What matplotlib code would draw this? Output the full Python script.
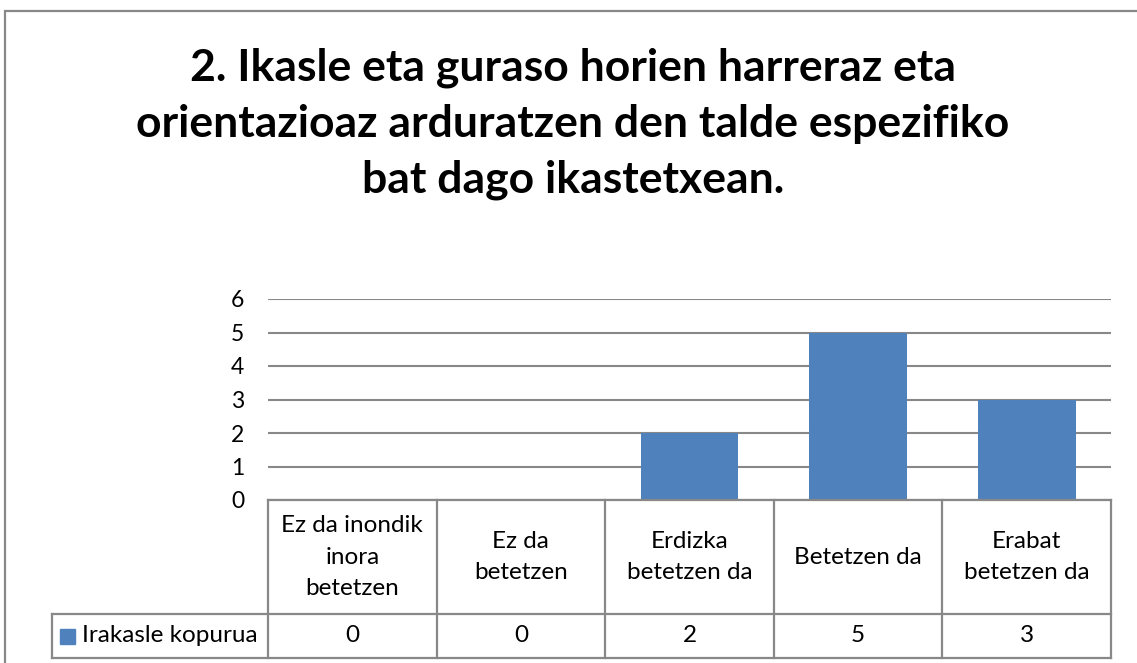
import matplotlib
matplotlib.use("Agg")
import matplotlib.pyplot as plt
from matplotlib.patches import Rectangle
from matplotlib.lines import Line2D

plt.rcParams['font.family'] = ['Lato', 'DejaVu Sans']

title = "2. Ikasle eta guraso horien harreraz eta\norientazioaz arduratzen den talde espezifiko\nbat dago ikastetxean."
categories = ["Ez da inondik\ninora\nbetetzen", "Ez da\nbetetzen", "Erdizka\nbetetzen da",
              "Betetzen da", "Erabat\nbetetzen da"]
values = [0, 0, 2, 5, 3]
series_name = "Irakasle kopurua"
yticks = [0, 1, 2, 3, 4, 5, 6]

BAR = "#4F81BD"
GRID = "#888888"

W, H = 1137, 663
fig = plt.figure(figsize=(W / 100, H / 100), dpi=100)

# outer chart border
fig.patches.append(Rectangle((5 / W, -0.1), 1.2, 1.1 - 11 / H, transform=fig.transFigure,
                             fill=False, edgecolor=GRID, linewidth=1.6))

fig.text(573 / W, 1 - 124 / H, title, ha="center", va="center", fontsize=32,
         fontweight="bold", linespacing=1.47)

left, right, top, bottom = 268, 1111, 299, 500
ax = fig.add_axes([left / W, 1 - bottom / H, (right - left) / W, (bottom - top) / H])
x = list(range(len(categories)))
ax.bar(x, values, width=0.58, color=BAR, zorder=2)
ax.set_xlim(-0.5, len(categories) - 0.5)
ax.set_ylim(0, 6)
ax.set_yticks(yticks)
ax.set_yticklabels([str(t) for t in yticks], fontsize=16.5)
ax.tick_params(axis="y", length=0, pad=17)
ax.set_xticks([])
for s in ax.spines.values():
    s.set_visible(False)
ax.yaxis.grid(True, color=GRID, linewidth=1.5, zorder=1)
ax.set_axisbelow(True)

# data table
tr = ax.get_xaxis_transform()
ppx = (bottom - top)  # pixels per axes unit (y)
n = len(categories)
unit = (right - left) / n
y_hdr = -(614 - bottom) / ppx
y_val = -(658 - bottom) / ppx
leg_left_data = -0.5 + (52 - left) / unit

def line(xs, ys):
    ax.add_line(Line2D(xs, ys, transform=tr, color=GRID, linewidth=1.6, clip_on=False, zorder=3))

line([-0.5, n - 0.5], [0, 0])
line([leg_left_data, n - 0.5], [y_hdr, y_hdr])
line([leg_left_data, n - 0.5], [y_val, y_val])
for b in range(n + 1):
    line([b - 0.5, b - 0.5], [0, y_val])
line([leg_left_data, leg_left_data], [y_hdr, y_val])

for i, (c, v) in enumerate(zip(categories, values)):
    ax.text(i, y_hdr / 2, c, transform=tr, ha="center", va="center", fontsize=17.5,
            linespacing=1.62, clip_on=False)
    ax.text(i, (y_hdr + y_val) / 2, str(v), transform=tr, ha="center", va="center",
            fontsize=17.5, clip_on=False)

# legend key in table
ymid = (y_hdr + y_val) / 2
ax.add_patch(Rectangle((leg_left_data + 8 / unit, ymid - 7.5 / ppx), 15 / unit, 15 / ppx,
                       transform=tr, color=BAR, clip_on=False))
ax.text(leg_left_data + 30 / unit, ymid, series_name, transform=tr, ha="left", va="center",
        fontsize=17.5, clip_on=False)

fig.savefig("out.png", dpi=100)
